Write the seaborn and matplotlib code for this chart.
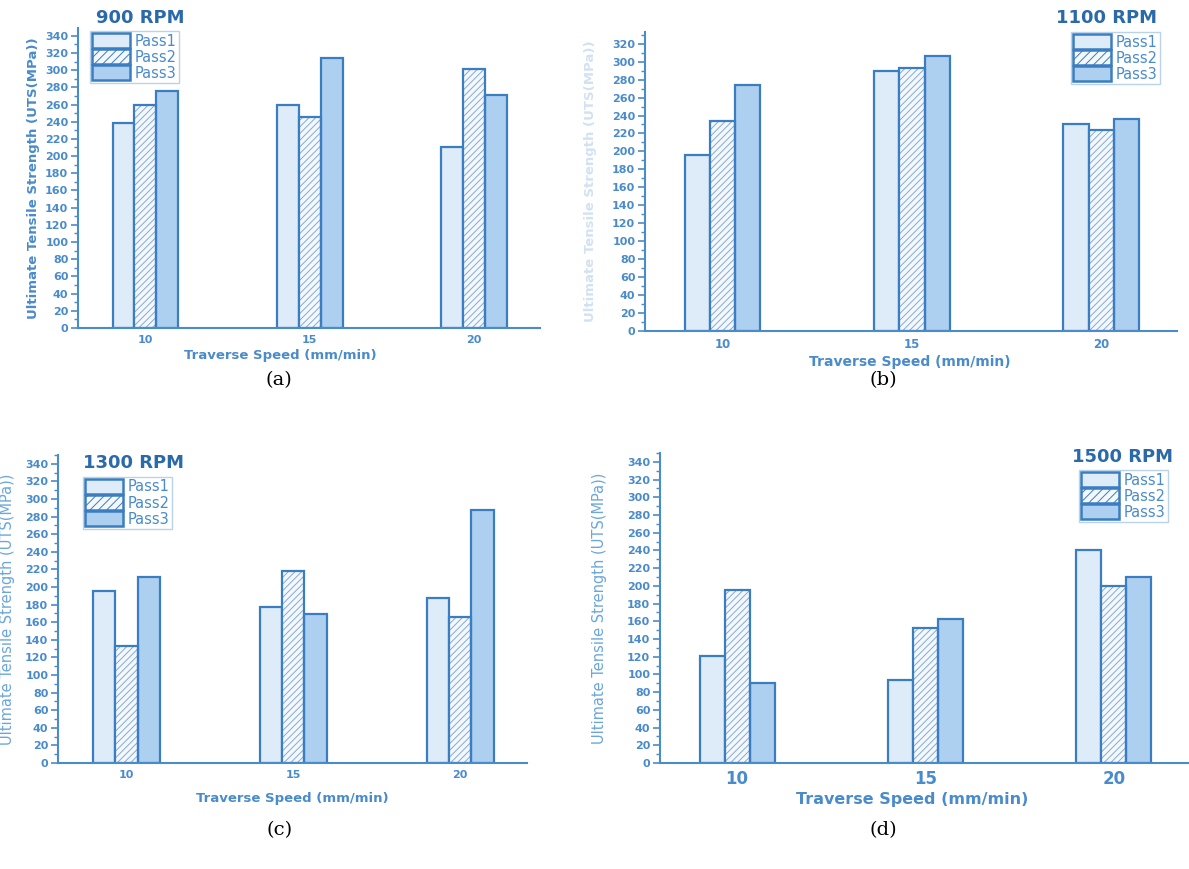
import matplotlib
matplotlib.use("Agg")
import matplotlib.pyplot as plt
from matplotlib.patches import Patch, Rectangle
from matplotlib.ticker import MultipleLocator
import seaborn as sns
import pandas as pd

# ---------------- data ----------------
speeds = ["10", "15", "20"]
passes = ["Pass1", "Pass2", "Pass3"]

pass1_900 = [239, 259, 210]
pass2_900 = [260, 246, 301]
pass3_900 = [276, 314, 271]

pass1_1100 = [196, 290, 230]
pass2_1100 = [234, 293, 224]
pass3_1100 = [274, 306, 236]

pass1_1300 = [195, 177, 188]
pass2_1300 = [133, 218, 166]
pass3_1300 = [211, 169, 288]

pass1_1500 = [121, 94, 240]
pass2_1500 = [195, 152, 200]
pass3_1500 = [90, 163, 210]

titles = ["900 RPM", "1100 RPM", "1300 RPM", "1500 RPM"]
captions = ["(a)", "(b)", "(c)", "(d)"]
ylabel = "Ultimate Tensile Strength (UTS(MPa))"
xlabel = "Traverse Speed (mm/min)"

series = [
    [pass1_900, pass2_900, pass3_900],
    [pass1_1100, pass2_1100, pass3_1100],
    [pass1_1300, pass2_1300, pass3_1300],
    [pass1_1500, pass2_1500, pass3_1500],
]

# ---------------- style ----------------
sns.set_theme(style="white")
plt.rcParams["font.family"] = ["DejaVu Sans"]
plt.rcParams["hatch.linewidth"] = 0.7

fill_colors = ["#deebf8", "#f4f8fd", "#aed0f0"]
hatches = ["", "/////", ""]
edge = "#3a7dc0"
hatch_col = "#82aad4"
axis_col = "#4a8bcb"
tick_col = "#4a8bcb"
title_col = "#2b6aa8"

W, H = 1189, 869
fig = plt.figure(figsize=(W / 100, H / 100), dpi=100, facecolor="white")

panels = [
    dict(l=78, r=540, b=328, t=28, ymax=349, ylab_x=-0.083, ylab_bold=True, ylab_alpha=1.0,
         ylab_size=9.5, ylab_col="#4a8bcb",
         xlab=(0.437, -0.09), xlab_size=9.5, xt_size=8,
         title=(0.134, 1.033), leg=(0.026, 0.99, "upper left")),
    dict(l=645, r=1177, b=331, t=32, ymax=333, ylab_x=-0.09, ylab_bold=True, ylab_alpha=0.25,
         ylab_size=9.5, ylab_col="#4a8bcb",
         xlab=(0.498, -0.104), xlab_size=10, xt_size=8.5,
         title=(0.868, 1.047), leg=(0.968, 1.0, "upper right")),
    dict(l=58, r=527, b=763, t=455, ymax=350, ylab_x=-0.092, ylab_bold=False, ylab_alpha=1.0,
         ylab_size=10.5, ylab_col="#6aa6dc",
         xlab=(0.499, -0.114), xlab_size=9.5, xt_size=8,
         title=(0.162, 0.974), leg=(0.053, 0.929, "upper left")),
    dict(l=660, r=1189, b=763, t=453, ymax=350, ylab_x=-0.10, ylab_bold=False, ylab_alpha=1.0,
         ylab_size=10.5, ylab_col="#6aa6dc",
         xlab=(0.476, -0.119), xlab_size=11.5, xt_size=12,
         title=(0.875, 0.987), leg=(0.96, 0.945, "upper right")),
]

caption_pos = [(279, 380), (883, 380), (280, 830), (883, 830)]

for i, p in enumerate(panels):
    ax = fig.add_axes([p["l"] / W, 1 - p["b"] / H, (p["r"] - p["l"]) / W, (p["b"] - p["t"]) / H])
    rows = []
    for k, name in enumerate(passes):
        for j, s in enumerate(speeds):
            rows.append({"speed": s, "pass": name, "uts": series[i][k][j]})
    df = pd.DataFrame(rows)
    sns.barplot(data=df, x="speed", y="uts", hue="pass", order=speeds, hue_order=passes,
                palette=fill_colors, width=0.4, edgecolor=edge, linewidth=1.6,
                saturation=1.0, legend=False, errorbar=None, ax=ax)
    for cont, h in zip(ax.containers, hatches):
        for bar in cont:
            if h:
                # hatch drawn in a lighter blue, outline re-drawn on top in the edge colour
                bar.set_hatch(h)
                bar.set_edgecolor(hatch_col)
                bar.set_linewidth(0)
                ax.add_patch(Rectangle(bar.get_xy(), bar.get_width(), bar.get_height(),
                                       fill=False, edgecolor=edge, linewidth=1.6, zorder=bar.get_zorder() + 0.1))
            else:
                bar.set_edgecolor(edge)

    ax.set_xlim(-0.41, 2.4)
    ax.set_ylim(0, p["ymax"])
    ax.set_facecolor("white")
    for side in ["top", "right"]:
        ax.spines[side].set_visible(False)
    for side in ["left", "bottom"]:
        ax.spines[side].set_color(axis_col)
        ax.spines[side].set_linewidth(1.5)

    ax.yaxis.set_major_locator(MultipleLocator(20))
    ax.yaxis.set_minor_locator(MultipleLocator(10))
    ax.tick_params(axis="y", which="major", left=True, length=5, width=1.2, color=axis_col,
                   labelsize=8, labelcolor=tick_col, pad=2)
    ax.tick_params(axis="y", which="minor", left=True, length=3, width=1.0, color=axis_col)
    ax.tick_params(axis="x", length=0, labelsize=p["xt_size"], labelcolor=tick_col, pad=5)
    for lab in ax.get_yticklabels() + ax.get_xticklabels():
        lab.set_fontweight("bold")

    ax.set_xlabel("")
    ax.set_ylabel(ylabel, fontsize=p["ylab_size"], color=p["ylab_col"],
                  fontweight="bold" if p["ylab_bold"] else "normal", alpha=p["ylab_alpha"])
    ax.yaxis.set_label_coords(p["ylab_x"], 0.5)
    ax.text(p["xlab"][0], p["xlab"][1], xlabel, transform=ax.transAxes, ha="center", va="center",
            fontsize=p["xlab_size"], fontweight="bold", color=axis_col)

    tx, ty = p["title"]
    ax.text(tx, ty, titles[i], transform=ax.transAxes, ha="center", va="center",
            fontsize=13, fontweight="bold", color=title_col)

    handles = [Patch(facecolor=fc, edgecolor=edge, hatch=h, linewidth=1.8)
               for fc, h in zip(fill_colors, ["", "////", ""])]
    lx, ly, lloc = p["leg"]
    leg = ax.legend(handles, passes, loc=lloc, bbox_to_anchor=(lx, ly), frameon=True,
                    fancybox=False, fontsize=10.5, handlelength=2.6, handleheight=1.2,
                    labelspacing=0.05, handletextpad=0.3, borderpad=0.15, borderaxespad=0.0)
    leg.get_frame().set_edgecolor("#a9c8e8")
    leg.get_frame().set_linewidth(1.0)
    for t in leg.get_texts():
        t.set_color(tick_col)

    cx, cy = caption_pos[i]
    fig.text(cx / W, 1 - cy / H, captions[i], ha="center", va="center",
             fontsize=14, family="DejaVu Serif", color="black")

fig.savefig("out.png", dpi=100, facecolor="white")
